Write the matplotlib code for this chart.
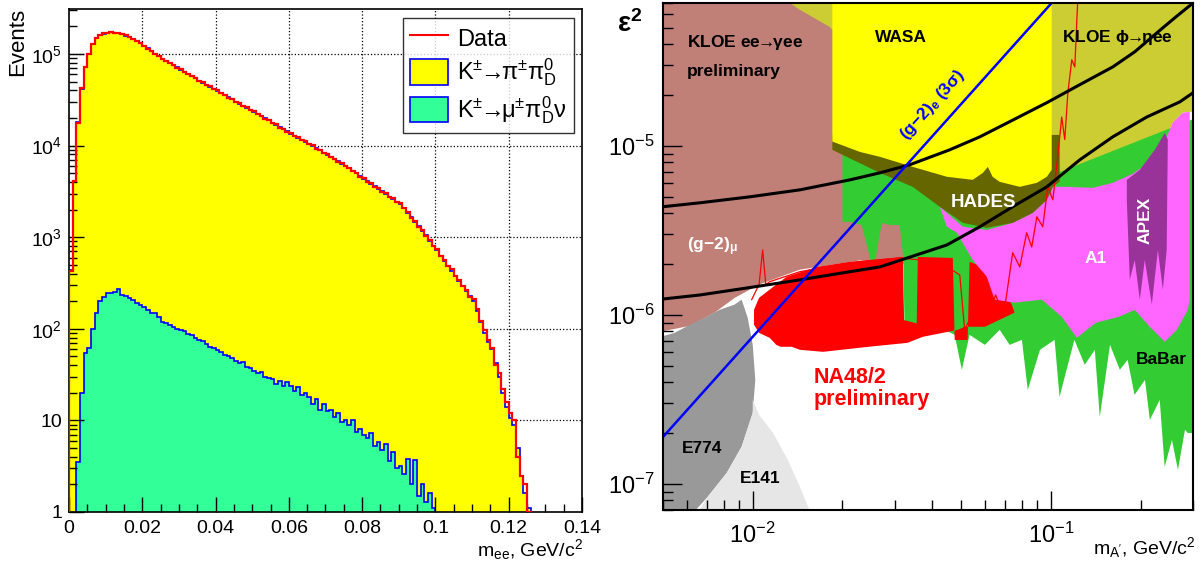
import numpy as np
import matplotlib
matplotlib.use("Agg")
import matplotlib.pyplot as plt
from matplotlib.ticker import FixedLocator, FixedFormatter, LogLocator, NullFormatter, MultipleLocator
from matplotlib.patches import Patch
from matplotlib.lines import Line2D

plt.rcParams['font.family'] = ['Liberation Sans', 'DejaVu Sans']
plt.rcParams['mathtext.fontset'] = 'custom'
plt.rcParams['mathtext.rm'] = 'Liberation Sans'
plt.rcParams['mathtext.it'] = 'Liberation Sans:italic'
plt.rcParams['mathtext.bf'] = 'Liberation Sans:bold'

# ---------------- left panel: m_ee spectrum (bins of 0.001 GeV) ----------------
bin_w = 0.001
mc_pi = [440, 4000, 18000, 42000, 72000, 100000, 128000, 148000, 160000, 167000,
         171000, 172000, 171000, 169000, 165000, 159000, 152000, 145000, 138000, 131000,
         123000, 115000, 108000, 101000, 95000, 89000, 84000, 80000, 75500, 71500,
         67600, 64000, 60500, 57300, 54200, 51300, 48800, 46300, 44100, 41900,
         39800, 37700, 35600, 33700, 31900, 30200, 28700, 27300, 25900, 24700,
         23400, 22200, 21000, 19900, 18800, 17800, 16800, 15900, 15100, 14300,
         13500, 12800, 12200, 11600, 11000, 10500, 9900, 9380, 8870, 8400,
         7940, 7520, 7110, 6730, 6370, 6030, 5650, 5300, 4970, 4660,
         4370, 4090, 3840, 3600, 3370, 3160, 2960, 2780, 2610, 2440,
         2290, 2090, 1860, 1660, 1480, 1320, 1170, 1050, 910, 810,
         720, 630, 556, 490, 432, 380, 335, 295, 257, 226,
         200, 158, 120, 91, 72, 60, 42, 30, 20, 14,
         10.5, 8.9, 5.0, 2.5, 1.6, 1.1]
data = [430, 4100, 17800, 42500, 71500, 100500, 127000, 149000, 159500, 167500,
        170500, 172500, 171500, 168500, 165500, 159500, 152500, 144500, 138500, 130500,
        123500, 114500, 108500, 100500, 95500, 88500, 84500, 79500, 76000, 71000,
        68000, 63500, 61000, 57000, 54500, 51000, 49100, 46000, 44400, 41600,
        40000, 37400, 35900, 33400, 32100, 30000, 28900, 27100, 26100, 24500,
        23600, 22000, 21200, 19700, 19000, 17600, 17000, 15700, 15300, 14100,
        13700, 12600, 12400, 11400, 11200, 10300, 10050, 9250, 9000, 8300,
        8050, 7420, 7230, 6640, 6480, 5940, 5760, 5220, 5060, 4590,
        4450, 4020, 3910, 3540, 3430, 3110, 3020, 2730, 2670, 2400,
        2340, 2060, 1900, 1630, 1510, 1300, 1200, 1030, 930, 800,
        735, 620, 570, 480, 445, 375, 345, 290, 265, 222,
        210, 165, 122, 98, 75, 62, 40, 33, 22, 16,
        12, 10, 4.0, 2.5, 2.0, 1.0]
mc_mu = [3.5, 20, 55, 62, 100, 150, 200, 225, 243, 245,
         252, 270, 236, 226, 219, 205, 193, 183, 172, 160,
         150, 147, 133, 118, 116, 109, 104, 100, 97, 94,
         88, 86, 80, 75, 73, 68, 63, 61, 58, 56,
         52, 50, 48, 45, 42, 43, 38, 37, 35, 33,
         34, 30, 29, 28, 25, 27, 24, 26, 24, 21,
         23, 19, 20, 18, 15, 17, 13, 15, 12.6, 13,
         11, 12, 9.5, 10, 9, 10, 7.5, 8, 7, 6.5,
         7.2, 5.2, 5.8, 4.8, 5.5, 3.6, 4.5, 3.0, 3.2, 2.6,
         3.8, 2.0, 3.7, 1.5, 2.0, 1.3, 1.6, 1.1]
mu_first_bin = 2
x_ticks = [0, 0.02, 0.04, 0.06, 0.08, 0.1, 0.12, 0.14]
x_ticklabels = ['0', '0.02', '0.04', '0.06', '0.08', '0.1', '0.12', '0.14']
y_ticks = [1, 10, 1e2, 1e3, 1e4, 1e5]
y_ticklabels = ['1', '10', '10$^{2}$', '10$^{3}$', '10$^{4}$', '10$^{5}$']

# ---------------- right panel: exclusion regions (m in GeV, eps^2) ----------------
kloe_ee_m = [0.004, 0.035, 0.035, 0.0323, 0.0229, 0.0144, 0.0105, 0.0087, 0.00745, 0.00615, 0.004]
kloe_ee_e = [1e-4, 1e-4, 2.0e-6, 2.0e-6, 2.1e-6, 1.85e-6, 1.51e-6, 1.26e-6, 1.03e-6, 8.6e-7, 7.4e-7]

kloe_eta_m = [0.0130, 0.35, 0.35, 0.2926, 0.2772, 0.2565, 0.2448, 0.2269, 0.1884, 0.1614,
              0.1383, 0.1132, 0.1016, 0.09, 0.0185, 0.0181, 0.0144, 0.0130]
kloe_eta_e = [1e-4, 1e-4, 1.59e-5, 1.59e-5, 1.57e-5, 1.37e-5, 1.13e-5, 8.61e-6, 6.92e-6, 6.12e-6,
              5.72e-6, 5.88e-6, 7.21e-6, 2e-5, 4.85e-5, 5.06e-5, 6.38e-5, 7.2e-5]

babar_m = [0.0200, 0.107, 0.35, 0.35, 0.288, 0.282, 0.267, 0.255, 0.241, 0.232,
           0.215, 0.207, 0.191, 0.181, 0.1705, 0.158, 0.146, 0.1405, 0.130, 0.120,
           0.107, 0.103, 0.092, 0.0837, 0.080, 0.0728, 0.0674, 0.0601, 0.0534, 0.0503,
           0.0476, 0.0441, 0.0393, 0.0358, 0.0350, 0.0323, 0.0320, 0.0311, 0.0288, 0.0271,
           0.0259, 0.0253, 0.0247, 0.0232, 0.0212, 0.0200]
babar_e = [9.5e-6, 7.0e-6, 1.6e-5, 2.0e-7, 2.0e-7, 2.09e-7, 1.21e-7, 1.82e-7, 1.26e-7, 3.14e-7,
           2.39e-7, 4.12e-7, 3.36e-7, 5.42e-7, 4.73e-7, 6.64e-7, 2.49e-7, 6.21e-7, 5.06e-7, 7.11e-7,
           3.27e-7, 7.11e-7, 6.21e-7, 3.6e-7, 7.11e-7, 6.64e-7, 8.15e-7, 6.64e-7, 7.61e-7, 4.73e-7,
           7.61e-7, 8.15e-7, 8.5e-7, 8.5e-7, 8.9e-7, 8.9e-7, 2.2e-6, 3.4e-6, 3.4e-6, 3.5e-6,
           2.2e-6, 1.85e-6, 2.2e-6, 3.4e-6, 3.55e-6, 3.55e-6]

na48_m = [0.0101, 0.0105, 0.0114, 0.0130, 0.0164, 0.0212, 0.0319, 0.0322, 0.0355, 0.0358,
          0.0469, 0.0476, 0.0526, 0.0534, 0.0624, 0.0674, 0.0740, 0.0756, 0.0601, 0.0514,
          0.0488, 0.0372, 0.0331, 0.0245, 0.0172, 0.0144, 0.0135, 0.0124, 0.0120, 0.0114,
          0.0105, 0.0101]
na48_e = [1.07e-6, 1.26e-6, 1.41e-6, 1.68e-6, 1.92e-6, 2.06e-6, 2.20e-6, 9.3e-7, 8.9e-7, 2.2e-6,
          2.17e-6, 7.1e-7, 7.1e-7, 2.06e-6, 1.85e-6, 1.51e-6, 1.15e-6, 1.03e-6, 8.5e-7, 8.5e-7,
          8.15e-7, 7.41e-7, 6.83e-7, 6.47e-7, 6.04e-7, 6.21e-7, 6.47e-7, 6.47e-7, 6.64e-7, 7.31e-7,
          7.82e-7, 8.73e-7]

na48_lim_m = [0.00992, 0.0103, 0.0105, 0.0108, 0.01106, 0.0114, 0.0144, 0.0212, 0.0311, 0.0424,
              0.0495, 0.0514, 0.0565, 0.0601, 0.0653, 0.0695, 0.0745, 0.0787, 0.0830, 0.0863,
              0.0898, 0.0940, 0.0977, 0.1016, 0.1055, 0.1088, 0.1114, 0.1141, 0.1176, 0.1204,
              0.1223, 0.1242]
na48_lim_e = [1.23e-6, 1.41e-6, 1.51e-6, 2.42e-6, 1.51e-6, 1.57e-6, 1.80e-6, 2.03e-6, 2.17e-6, 2.06e-6,
              1.72e-6, 8.15e-7, 1.15e-6, 8.73e-7, 1.31e-6, 1.0e-6, 2.33e-6, 1.92e-6, 3.06e-6, 2.52e-6,
              3.80e-6, 3.32e-6, 5.72e-6, 4.79e-6, 8.61e-6, 1.48e-5, 1.09e-5, 2.06e-5, 3.23e-5, 2.93e-5,
              5.57e-5, 1.0e-4]

a1_m = [0.0424, 0.0507, 0.0610, 0.0745, 0.0870, 0.0970, 0.1016, 0.1132, 0.1383, 0.1614,
        0.1884, 0.2269, 0.2448, 0.2565, 0.2772, 0.2926, 0.2926, 0.2883, 0.2648, 0.2413,
        0.2148, 0.1913, 0.1690, 0.1416, 0.1223, 0.1088, 0.0933, 0.0756, 0.0648, 0.0610,
        0.0547, 0.0484, 0.0448]
a1_e = [4.36e-6, 3.32e-6, 3.18e-6, 3.50e-6, 4.01e-6, 4.79e-6, 5.72e-6, 5.72e-6, 5.64e-6, 6.04e-6,
        6.83e-6, 8.61e-6, 1.13e-5, 1.37e-5, 1.57e-5, 1.59e-5, 1.23e-6, 1.07e-6, 8.15e-7, 6.92e-7,
        8.5e-7, 1.07e-6, 9.73e-7, 8.97e-7, 7.31e-7, 9.73e-7, 1.23e-6, 1.18e-6, 1.23e-6, 1.68e-6,
        2.11e-6, 3.06e-6, 3.32e-6]

hades_m = [0.0185, 0.1071, 0.1071, 0.1016, 0.0970, 0.0870, 0.0745, 0.0610, 0.0507, 0.0424,
           0.0344, 0.0267, 0.0200, 0.0185]
hades_e = [1.16e-5, 1.16e-5, 6.12e-6, 5.72e-6, 4.79e-6, 4.01e-6, 3.50e-6, 3.27e-6, 3.50e-6, 4.36e-6,
           5.72e-6, 6.92e-6, 8.85e-6, 9.47e-6]

wasa_m = [0.0185, 0.1007, 0.1007, 0.0970, 0.0898, 0.0787, 0.0674, 0.0638, 0.0615, 0.0592,
          0.0547, 0.0448, 0.0344, 0.0311, 0.0267, 0.0229, 0.0185]
wasa_e = [1e-4, 1e-4, 7.21e-6, 6.56e-6, 6.04e-6, 5.72e-6, 6.12e-6, 6.56e-6, 7.51e-6, 6.92e-6,
          6.29e-6, 6.56e-6, 7.51e-6, 7.93e-6, 8.61e-6, 9.2e-6, 1.06e-5]

apex_m = [0.1799, 0.1989, 0.2233, 0.2413, 0.2470, 0.2448, 0.2377, 0.2287, 0.2183, 0.2067,
          0.1989, 0.1913, 0.1841, 0.1799]
apex_e = [6.29e-6, 7.21e-6, 9.47e-6, 1.19e-5, 1.09e-5, 2.42e-6, 1.41e-6, 2.42e-6, 1.15e-6, 2.11e-6,
          1.23e-6, 2.11e-6, 1.61e-6, 4.79e-6]

e774_m = [0.0049, 0.00547, 0.00615, 0.00690, 0.00774, 0.00870, 0.00918, 0.00962, 0.0100, 0.0102,
          0.0100, 0.00918, 0.00818, 0.00706, 0.00644, 0.0063, 0.0049]
e774_e = [7.41e-7, 7.82e-7, 8.73e-7, 9.6e-7, 1.07e-6, 1.15e-6, 1.23e-6, 9.6e-7, 6.64e-7, 4.12e-7,
          2.63e-7, 1.66e-7, 1.16e-7, 8.37e-8, 7.0e-8, 6e-8, 6e-8]

e141_m = [0.0100, 0.0105, 0.0117, 0.0131, 0.0144, 0.0155, 0.0158, 0.0063, 0.00706, 0.00818,
          0.00918, 0.0100]
e141_e = [3.14e-7, 2.56e-7, 2.0e-7, 1.39e-7, 9.6e-8, 7.0e-8, 6e-8, 6e-8, 8.37e-8, 1.16e-7,
          1.66e-7, 2.63e-7]

gm2_hi_m = [0.00499, 0.00664, 0.00977, 0.0144, 0.0212, 0.0267, 0.0336, 0.0458, 0.0578, 0.0728,
            0.0970, 0.1251, 0.1614, 0.1913, 0.2269, 0.2606, 0.30]
gm2_hi_e = [4.36e-6, 4.60e-6, 4.99e-6, 5.49e-6, 6.29e-6, 6.92e-6, 7.72e-6, 9.47e-6, 1.13e-5, 1.39e-5,
            1.80e-5, 2.30e-5, 2.93e-5, 3.60e-5, 4.66e-5, 5.72e-5, 7.0e-5]
gm2_lo_m = [0.00499, 0.00664, 0.00977, 0.0144, 0.0212, 0.0267, 0.0448, 0.0578, 0.0745, 0.0970,
            0.1251, 0.1614, 0.2098, 0.271, 0.30]
gm2_lo_e = [1.24e-6, 1.31e-6, 1.45e-6, 1.61e-6, 1.80e-6, 1.92e-6, 2.59e-6, 3.32e-6, 4.36e-6, 5.72e-6,
            8.26e-6, 1.13e-5, 1.48e-5, 1.82e-5, 2.06e-5]
gm2e_m = [0.0049, 0.115]
gm2e_e = [1.82e-7, 9.1e-5]

ARROW = '$\\!\\!\\rightarrow\\!\\!$'

fig = plt.figure(figsize=(12.03, 5.68), dpi=100)

# ---------------- left ----------------
ax = fig.add_axes([69/1203, 1-512/568, 513/1203, 503/568])
edges = np.arange(len(mc_pi)+1) * bin_w
mu_edges = (np.arange(len(mc_mu)+1) + mu_first_bin) * bin_w
for xv in x_ticks[1:-1]:
    ax.axvline(xv, color='k', ls=':', lw=0.9, zorder=0.5)
for yv in y_ticks[1:]:
    ax.axhline(yv, color='k', ls=':', lw=0.9, zorder=0.5)
ax.stairs(mc_pi, edges, baseline=0.5, fill=True, color='#ffff00', zorder=1)
ax.stairs(mc_pi, edges, baseline=0.5, color='#0000ff', lw=1.2, zorder=1.1)
ax.stairs(mc_mu, mu_edges, baseline=0.5, fill=True, color='#33ff99', zorder=1.2)
ax.stairs(mc_mu, mu_edges, baseline=0.5, color='#0000ff', lw=1.2, zorder=1.3)
ax.stairs(data, edges, baseline=0.5, color='#ff0000', lw=1.6, zorder=3)
ax.set_yscale('log')
ax.set_xlim(0, 0.14)
ax.set_ylim(1, 3.1e5)
ax.xaxis.set_major_locator(FixedLocator(x_ticks))
ax.xaxis.set_major_formatter(FixedFormatter(x_ticklabels))
ax.xaxis.set_minor_locator(MultipleLocator(0.005))
ax.yaxis.set_major_locator(FixedLocator(y_ticks))
ax.yaxis.set_major_formatter(FixedFormatter(y_ticklabels))
ax.yaxis.set_minor_locator(LogLocator(base=10, subs=np.arange(2, 10)))
ax.yaxis.set_minor_formatter(NullFormatter())
ax.tick_params(which='both', direction='in', top=False, right=False, width=1)
ax.tick_params(which='major', length=11, labelsize=14)
ax.tick_params(which='minor', length=6)
ax.tick_params(axis='x', pad=6)
ax.tick_params(axis='y', pad=5)
for s in ax.spines.values():
    s.set_linewidth(1.2)
fig.text(18/1203, 1-8/568, 'Events', rotation=90, ha='center', va='top', fontsize=16)
fig.text(583/1203, 1-550/568, 'm$_{\\mathrm{ee}}$, GeV/c$^{2}$', ha='right', va='center', fontsize=14)
handles = [Line2D([], [], color='#ff0000', lw=1.5),
           Patch(facecolor='#ffff00', edgecolor='#0000ff', lw=1.2),
           Patch(facecolor='#33ff99', edgecolor='#0000ff', lw=1.2)]
labels = ['Data', 'K$^{\\pm}$' + ARROW + 'π$^{\\pm}$π$^{0}_{\\mathrm{D}}$',
          'K$^{\\pm}$' + ARROW + 'μ$^{\\pm}$π$^{0}_{\\mathrm{D}}$ν']
leg = ax.legend(handles, labels, loc='upper right', bbox_to_anchor=(574/1203, 1-18/568),
                bbox_transform=fig.transFigure, fontsize=17, frameon=True, fancybox=False,
                edgecolor='k', handlelength=1.6, handleheight=1.3, borderpad=0.3,
                labelspacing=0.25, handletextpad=0.4, borderaxespad=0)
leg.get_frame().set_linewidth(1.0)

# ---------------- right ----------------
bx = fig.add_axes([663/1203, 1-510/568, 530/1203, 507/568])
bx.set_xscale('log')
bx.set_yscale('log')
bx.fill(kloe_ee_m, kloe_ee_e, color='#c08078', lw=0, zorder=1)
bx.fill(kloe_eta_m, kloe_eta_e, color='#cccc33', lw=0, zorder=1)
bx.fill(babar_m, babar_e, color='#33cc33', lw=0, zorder=1)
bx.fill(na48_m, na48_e, color='#ff0000', lw=0, zorder=1)
bx.fill(a1_m, a1_e, color='#ff66ff', lw=0, zorder=1)
bx.fill(hades_m, hades_e, color='#666600', lw=0, zorder=1)
bx.fill(wasa_m, wasa_e, color='#ffff00', lw=0, zorder=1)
bx.fill(apex_m, apex_e, color='#993399', lw=0, zorder=1)
bx.fill(e774_m, e774_e, color='#999999', lw=0, zorder=1)
bx.fill(e141_m, e141_e, color='#e6e6e6', lw=0, zorder=1)
bx.plot(na48_lim_m, na48_lim_e, color='#ff0000', lw=0.9, zorder=2)
bx.plot(gm2_hi_m, gm2_hi_e, color='k', lw=2.2, zorder=2)
bx.plot(gm2_lo_m, gm2_lo_e, color='k', lw=2.2, zorder=2)
bx.plot(gm2e_m, gm2e_e, color='#0000ff', lw=1.8, zorder=2)
bx.set_xlim(0.005, 0.3)
bx.set_ylim(7e-8, 7e-5)
bx.xaxis.set_major_locator(FixedLocator([1e-2, 1e-1]))
bx.xaxis.set_major_formatter(FixedFormatter(['10$^{-2}$', '10$^{-1}$']))
bx.xaxis.set_minor_locator(LogLocator(base=10, subs=np.arange(2, 10)))
bx.xaxis.set_minor_formatter(NullFormatter())
bx.yaxis.set_major_locator(FixedLocator([1e-7, 1e-6, 1e-5]))
bx.yaxis.set_major_formatter(FixedFormatter(['10$^{-7}$', '10$^{-6}$', '10$^{-5}$']))
bx.yaxis.set_minor_locator(LogLocator(base=10, subs=np.arange(2, 10)))
bx.yaxis.set_minor_formatter(NullFormatter())
bx.tick_params(which='both', direction='in', top=False, right=False, width=1)
bx.tick_params(which='major', length=14, labelsize=17)
bx.tick_params(which='minor', length=7)
bx.tick_params(axis='x', pad=9)
bx.tick_params(axis='y', pad=6)
for s in bx.spines.values():
    s.set_linewidth(1.5)

def lab(fx, fy, s, **kw):
    kw.setdefault('fontweight', 'bold')
    kw.setdefault('fontsize', 12.5)
    bx.text(fx, fy, s, transform=bx.transAxes, zorder=5, **kw)

lab(0.045, 0.923, 'KLOE ee' + ARROW + 'γee', va='center')
lab(0.045, 0.864, 'preliminary', va='center')
lab(0.449, 0.931, 'WASA', ha='center', va='center')
lab(0.753, 0.931, 'KLOE ϕ' + ARROW + 'ηee', va='center')
lab(0.509, 0.799, '(g−2)$_{\\mathbf{e}}$ (3σ)', ha='center', va='center', color='#0000ff', rotation=48)
lab(0.604, 0.607, 'HADES', ha='center', va='center', color='white', fontsize=13.5)
lab(0.817, 0.497, 'A1', ha='center', va='center', color='white')
lab(0.909, 0.572, 'APEX', ha='center', va='center', color='white', rotation=90)
lab(0.045, 0.519, '(g−2)$_{\\mathbf{μ}}$', va='center', color='white')
lab(0.285, 0.262, 'NA48/2', va='center', color='#ff0000', fontsize=15.5)
lab(0.285, 0.217, 'preliminary', va='center', color='#ff0000', fontsize=15.5)
lab(0.940, 0.296, 'BaBar', ha='center', va='center')
lab(0.074, 0.122, 'E774', ha='center', va='center')
lab(0.183, 0.063, 'E141', ha='center', va='center')
fig.text(630/1203, 1-24/568, 'ε$^{\\mathbf{2}}$', ha='center', va='center', fontsize=20, fontweight='bold')
fig.text(1195/1203, 1-548/568, 'm$_{\\mathrm{A\'}}$, GeV/c$^{2}$', ha='right', va='center', fontsize=14)

fig.savefig('out.png', dpi=100)
